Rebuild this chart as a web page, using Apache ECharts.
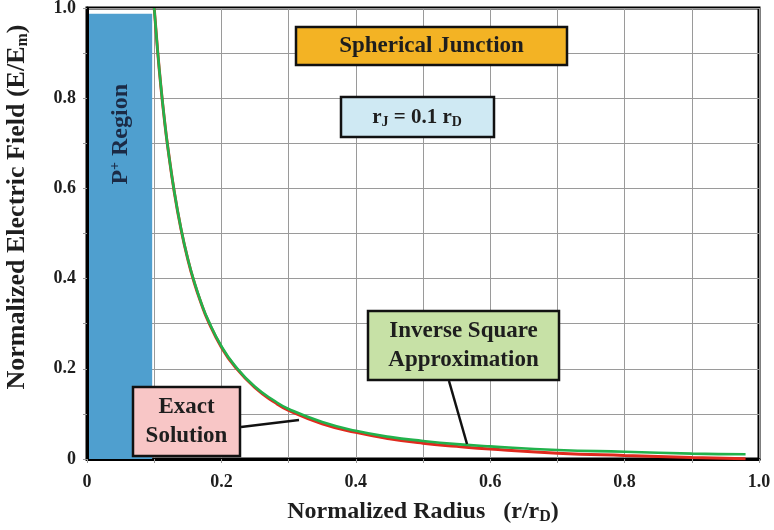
<!DOCTYPE html>
<html><head><meta charset="utf-8">
<script src="https://cdn.jsdelivr.net/npm/echarts@6/dist/echarts.min.js"></script>
<style>html,body{margin:0;padding:0;background:#fff}#c{width:774px;height:530px}</style>
</head><body><div id="c"></div>
<script>
// Normalized radius r/rD (from junction rJ = 0.1 to edge of depletion)
const radius = [0.10,0.105,0.11,0.115,0.12,0.13,0.14,0.15,0.16,0.17,0.18,0.20,0.22,0.25,0.28,0.30,0.35,0.40,0.45,0.50,0.55,0.60,0.70,0.80,0.90,0.98];
// Exact solution (red)
const exactField = [1.000,0.906,0.825,0.755,0.694,0.591,0.509,0.443,0.389,0.345,0.307,0.248,0.205,0.158,0.125,0.108,0.078,0.059,0.045,0.035,0.028,0.022,0.013,0.0076,0.0033,0.0006];
// Inverse square approximation (green)
const inverseSquareField = [1.000,0.907,0.826,0.756,0.694,0.592,0.510,0.444,0.391,0.346,0.309,0.250,0.207,0.160,0.128,0.111,0.082,0.0625,0.049,0.040,0.033,0.028,0.020,0.016,0.012,0.0104];
// P+ region extent
const pRegionX = [0.003, 0.097];
const pRegionTop = 0.987;
const xTickLabels = ['0','0.2','0.4','0.6','0.8','1.0'];
const yTickLabels = ['0','0.2','0.4','0.6','0.8','1.0'];

const FONT = 'Liberation Serif';
const TXT = '#1e1e1e';
const chart = echarts.init(document.getElementById('c'));
const exactData = radius.map((r,i)=>[r, exactField[i]]);
const invData = radius.map((r,i)=>[r, inverseSquareField[i]]);

function tickFmt(labels){
  return function(v){
    const k = Math.round(v*10);
    if (k % 2 !== 0) return '';
    return labels[k/2];
  };
}

chart.setOption({
  animation: false,
  grid: {left: 87, right: 15, top: 8, bottom: 71, containLabel: false, outerBoundsMode: 'none',
    show: true, borderColor: '#000', borderWidth: 3, backgroundColor: 'transparent'},
  xAxis: {
    type: 'value', min: 0, max: 1, interval: 0.1,
    name: 'Normalized Radius   (r/r{sub|D})',
    nameLocation: 'middle', nameGap: 40,
    nameTextStyle: {fontFamily: FONT, fontWeight: 'bold', fontSize: 24, color: TXT,
      rich: {sub: {fontFamily: FONT, fontWeight: 'bold', fontSize: 16, color: TXT, verticalAlign: 'bottom', padding: [10,0,0,0]}}},
    axisLine: {show: true, lineStyle: {color: '#000', width: 3}},
    axisTick: {show: true, inside: false, length: 4, lineStyle: {color: '#999'}},
    splitLine: {show: true, lineStyle: {color: '#9a9a9a', width: 1}},
    axisLabel: {formatter: tickFmt(xTickLabels), fontFamily: FONT, fontWeight: 'bold', fontSize: 18, color: TXT, margin: 14}
  },
  yAxis: {
    type: 'value', min: 0, max: 1, interval: 0.1,
    axisLine: {show: true, lineStyle: {color: '#000', width: 3}},
    axisTick: {show: true, inside: false, length: 4, lineStyle: {color: '#999'}},
    splitLine: {show: true, lineStyle: {color: '#9a9a9a', width: 1}},
    axisLabel: {formatter: tickFmt(yTickLabels), fontFamily: FONT, fontWeight: 'bold', fontSize: 18, color: TXT, margin: 11}
  },
  series: [
    {
      type: 'line', name: 'Exact Solution', data: exactData, showSymbol: false, smooth: true,
      lineStyle: {color: '#e02a1e', width: 3}, z: 3,
      markArea: {silent: true, itemStyle: {color: '#4f9fcf'}, label: {show: false},
        data: [[{coord: [pRegionX[0], pRegionTop]}, {coord: [pRegionX[1], 0]}]]}
    },
    {
      type: 'line', name: 'Inverse Square Approximation', data: invData, showSymbol: false, smooth: true,
      lineStyle: {color: '#22b24c', width: 2.6}, z: 4
    }
  ]
});

const pLabelPos = chart.convertToPixel({gridIndex: 0}, [(pRegionX[0]+pRegionX[1])/2, 0.72]);

function box(x, y, w, h, fill, text, fontSize, lh){
  return [
    {type: 'rect', z: 100, shape: {x: x, y: y, width: w, height: h}, style: {fill: fill, stroke: '#111', lineWidth: 2.5}},
    {type: 'text', z: 101, x: x + w/2, y: y + h/2, style: {x: 0, y: 0, text: text, align: 'center', verticalAlign: 'middle',
      font: 'bold ' + fontSize + 'px "' + FONT + '"', fill: TXT, lineHeight: lh || fontSize*1.25}}
  ];
}
const subRich = {
  n: {fontFamily: FONT, fontWeight: 'bold', fontSize: 21, fill: TXT},
  s: {fontFamily: FONT, fontWeight: 'bold', fontSize: 14, fill: TXT, padding: [9,0,0,0]}
};

chart.setOption({
  graphic: [].concat(
    box(296, 27, 271, 38, '#f3b324', 'Spherical Junction', 23),
    [
      {type: 'rect', z: 100, shape: {x: 341, y: 97, width: 153, height: 40}, style: {fill: '#cfe9f3', stroke: '#111', lineWidth: 2.5}},
      {type: 'text', z: 101, x: 417, y: 118, style: {x: 0, y: 0, align: 'center', verticalAlign: 'middle',
        text: '{n|r}{s|J}{n| = 0.1 r}{s|D}', rich: subRich}}
    ],
    box(368, 311, 191, 69, '#c7e1a6', 'Inverse Square\nApproximation', 23, 29),
    box(133, 387, 107, 69, '#f8c6c6', 'Exact\nSolution', 23, 29),
    [
      {type: 'line', z: 99, shape: {x1: 449, y1: 381, x2: 467, y2: 444}, style: {stroke: '#111', lineWidth: 2.5}},
      {type: 'line', z: 99, shape: {x1: 241, y1: 427, x2: 299, y2: 420}, style: {stroke: '#111', lineWidth: 2.5}},
      {type: 'text', z: 101, x: pLabelPos[0], y: pLabelPos[1], rotation: Math.PI/2,
        style: {x: 0, y: 0, align: 'center', verticalAlign: 'middle', text: 'P{sup|+} Region',
          font: 'bold 24px "' + FONT + '"', fill: '#1b2a45',
          rich: {sup: {fontFamily: FONT, fontWeight: 'bold', fontSize: 14, fill: '#1b2a45', padding: [0,0,10,0]}}}},
      {type: 'text', z: 101, x: 17, y: 207, rotation: Math.PI/2,
        style: {x: 0, y: 0, align: 'center', verticalAlign: 'middle',
          text: '{n|Normalized Electric Field (E/E}{s|m}{n|)}',
          rich: {
            n: {fontFamily: FONT, fontWeight: 'bold', fontSize: 26, fill: TXT},
            s: {fontFamily: FONT, fontWeight: 'bold', fontSize: 16, fill: TXT, padding: [11,0,0,0]}
          }}}
    ]
  )
});
</script></body></html>
